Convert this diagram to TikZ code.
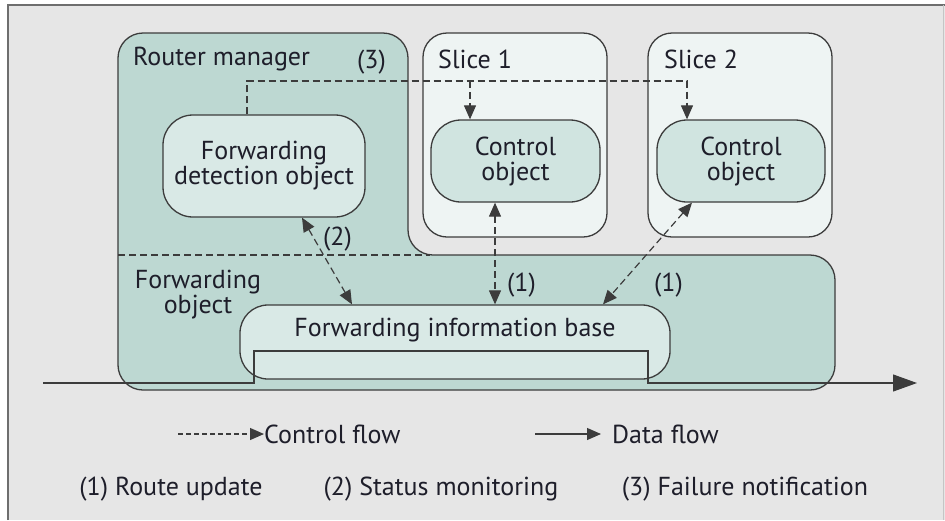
\documentclass[tikz,border=0pt]{standalone}
\usepackage{fontspec}
\setmainfont{PT Sans}
\usetikzlibrary{arrows.meta}
\definecolor{bgc}{HTML}{E6E6E6}
\definecolor{framec}{HTML}{6E6E6E}
\definecolor{teal1}{HTML}{BDD8D2}
\definecolor{slicec}{HTML}{EEF4F3}
\definecolor{ctrlc}{HTML}{D0E4E0}
\definecolor{objc}{HTML}{D9E9E6}
\definecolor{linec}{HTML}{3C3C3C}
\definecolor{txtc}{HTML}{1E1E2A}
\begin{document}
\begin{tikzpicture}[x=1pt,y=-1pt,
  every node/.style={text=txtc, font=\fontsize{26}{25}\selectfont},
  boxline/.style={draw=linec, line width=1.3pt},
  slicebox/.style={boxline, fill=slicec, rounded corners=24pt, minimum width=184pt, minimum height=204pt},
  ctrlbox/.style={boxline, fill=ctrlc, rounded corners=30pt, minimum height=82pt, align=center, inner sep=0pt},
  objbox/.style={boxline, fill=objc, rounded corners=30pt, align=center, inner sep=0pt},
  tip/.tip={Triangle[length=14pt,width=12pt]},
  cf/.style={draw=linec, line width=1.2pt, dash pattern=on 7pt off 4pt},
  lbl/.style={inner sep=0pt}
]
\useasboundingbox (0,0) rectangle (945,520);
% frame
\fill[bgc] (8,5) rectangle (945,520);
\draw[framec, line width=1.6pt] (8,520) -- (8,5) -- (945,5);
\draw[framec!40, line width=0.8pt] (943.5,5) -- (943.5,520);

% router manager + forwarding object region
\draw[boxline, fill=teal1, rounded corners=25pt] (118,390) -- (118,33) -- (408,33) -- (408,255) -- (835,255) -- (835,390) -- cycle;
\coordinate (sepL) at (118,255);
\coordinate (sepR) at (430,255);
\draw[cf] (sepL) -- (sepR);

% slices
\node[slicebox] (s1) at (515,135) {};
\node[slicebox] (s2) at (740,135) {};

% objects
\node[ctrlbox, minimum width=169pt] (c1) at (515.5,161) {Control\\object};
\node[ctrlbox, minimum width=168pt] (c2) at (741,161) {Control\\object};
\node[objbox, minimum width=202pt, minimum height=102pt] (fdo) at (264,166) {Forwarding\\detection object};
\node[objbox, minimum width=430pt, minimum height=74pt, rounded corners=28pt] (fib) at (455,342) {};
\node[lbl] (fibt) at (455,330) {Forwarding information base};

% labels
\node[lbl, anchor=base west] (rm) at (133,65) {Router manager};
\node[lbl, anchor=base west] (l3) at (357,68) {(3)};
\node[lbl, anchor=base west] (sl1) at (438,68) {Slice 1};
\node[lbl, anchor=base west] (sl2) at (664,68) {Slice 2};
\node[lbl, align=center] (fo) at (198,295) {Forwarding\\object};

% data path
\coordinate (d0) at (43,383);
\coordinate (d1) at (254,383);
\coordinate (d2) at (254,351);
\coordinate (d3) at (648,351);
\coordinate (d4) at (648,383);
\coordinate (d5) at (917,383);
\draw[linec, line width=1.2pt, -{Triangle[length=24pt,width=17pt]}] (d0) -- (d1) -- (d2) -- (d3) -- (d4) -- (d5);

% (3) failure notification
\coordinate (t3) at (247,81);
\coordinate (j1) at (470,81);
\coordinate (j2) at (687,81);
\draw[cf, -{tip}] (fdo.north -| t3) -- (t3) -- (j2) -- (c2.north -| j2);
\draw[cf, -{tip}] (j1) -- (c1.north -| j1);

% (2) status monitoring
\draw[cf, {tip}-{tip}] ([xshift=38pt]fdo.south) -- ([xshift=-103pt]fib.north);
\node[lbl, anchor=base west] (l2) at (323,245) {(2)};

% (1) route updates
\draw[cf, {tip}-{tip}] ([xshift=-20.5pt]c1.south) -- ([xshift=40pt]fib.north);
\draw[cf, {tip}-{tip}] ([xshift=-49pt]c2.south) -- ([xshift=148pt]fib.north);
\node[lbl, anchor=base west] (l1a) at (507,291) {(1)};
\node[lbl, anchor=base west] (l1b) at (654,291) {(1)};

% legend
\coordinate (lc0) at (178,434);
\coordinate (lc1) at (264,434);
\draw[cf, dash pattern=on 5pt off 3pt, -{tip}] (lc0) -- (lc1);
\node[lbl, anchor=west] (lct) at (lc1) {Control flow};
\coordinate (ld0) at (535,434);
\coordinate (ld1) at (601,434);
\draw[linec, line width=1.2pt, -{tip}] (ld0) -- (ld1);
\node[lbl, anchor=west] (ldt) at (612,434) {Data flow};
\node[lbl, anchor=base] (k1) at (171,495) {(1) Route update};
\node[lbl, anchor=base] (k2) at (441,495) {(2) Status monitoring};
\node[lbl, anchor=base] (k3) at (745,495) {(3) Failure notification};
\end{tikzpicture}
\end{document}
